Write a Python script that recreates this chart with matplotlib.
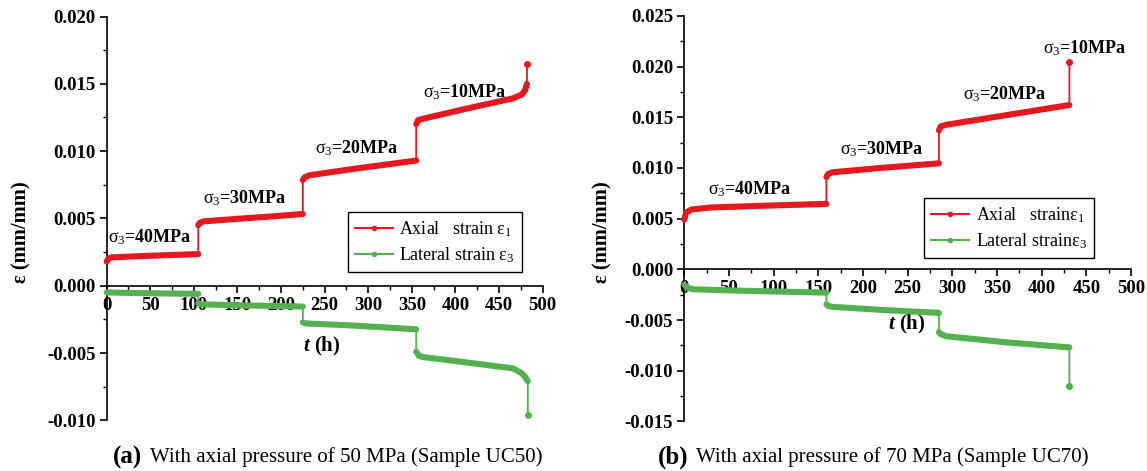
import matplotlib
matplotlib.use("Agg")
import matplotlib.pyplot as plt
from matplotlib.lines import Line2D
from matplotlib.ticker import MultipleLocator, FormatStrFormatter

plt.rcParams['font.family'] = ['Liberation Serif', 'DejaVu Serif']
plt.rcParams['mathtext.fontset'] = 'custom'
plt.rcParams['mathtext.rm'] = 'Liberation Serif'
plt.rcParams['mathtext.it'] = 'Liberation Serif:italic'
plt.rcParams['mathtext.bf'] = 'Liberation Serif:bold'
plt.rcParams['mathtext.bfit'] = 'Liberation Serif:italic:bold'
plt.rcParams['axes.unicode_minus'] = False

# ---- Sample UC50 (axial pressure 50 MPa): creep stages, time in h, strain in mm/mm
uc50_axial_t = [[0, 2, 5, 20, 60, 105],
                [105, 107, 111, 150, 190, 225],
                [225, 227, 232, 280, 320, 355],
                [355, 357, 365, 413, 466, 476, 480, 482]]
uc50_axial_e = [[0.0018, 0.0020, 0.0021, 0.00215, 0.00225, 0.00235],
                [0.0045, 0.00468, 0.00478, 0.00497, 0.00515, 0.00533],
                [0.00785, 0.00805, 0.0082, 0.00865, 0.0090, 0.0093],
                [0.0120, 0.0123, 0.01244, 0.01316, 0.01392, 0.0142, 0.01455, 0.0150]]
uc50_axial_fail = (482, 0.0165)

uc50_lat_t = [[0, 30, 70, 105],
              [105, 108, 150, 190, 225],
              [225, 228, 280, 320, 355],
              [355, 358, 363, 413, 466, 476, 480, 483]]
uc50_lat_e = [[-0.0005, -0.00054, -0.00058, -0.0006],
              [-0.0013, -0.00138, -0.00145, -0.0015, -0.00155],
              [-0.00272, -0.0028, -0.00295, -0.0031, -0.00324],
              [-0.0049, -0.0052, -0.0053, -0.0057, -0.00614, -0.0065, -0.0068, -0.0071]]
uc50_lat_fail = (483, -0.0096)

# ---- Sample UC70 (axial pressure 70 MPa)
uc70_axial_t = [[0, 2, 8, 30, 100, 159],
                [159, 161, 166, 220, 285],
                [285, 287, 293, 360, 431]]
uc70_axial_e = [[0.0049, 0.0056, 0.0059, 0.0061, 0.0063, 0.00645],
                [0.0091, 0.0094, 0.00957, 0.0100, 0.01045],
                [0.0137, 0.0141, 0.01425, 0.0152, 0.0162]]
uc70_axial_fail = (431, 0.0204)

uc70_lat_t = [[0, 3, 10, 60, 107, 159],
              [159, 161, 166, 220, 285],
              [285, 287, 293, 360, 431]]
uc70_lat_e = [[-0.0015, -0.0018, -0.00197, -0.0021, -0.0022, -0.0023],
              [-0.00345, -0.0036, -0.0037, -0.0040, -0.0043],
              [-0.0062, -0.0064, -0.0066, -0.0072, -0.0077]]
uc70_lat_fail = (431, -0.0115)

# confining pressure labels: (text, t, strain)
uc50_stage_labels = [("40MPa", 50, 0.0036), ("30MPa", 159, 0.0065),
                     ("20MPa", 287, 0.0102), ("10MPa", 411, 0.0144)]
uc70_stage_labels = [("40MPa", 73, 0.0079), ("30MPa", 221, 0.0119),
                     ("20MPa", 359, 0.0173), ("10MPa", 448, 0.0218)]

RED = '#e3191f'
GREEN = '#55b14f'


def draw_series(ax, ts, es, fail, color):
    full_t, full_e = [], []
    for t, e in zip(ts, es):
        full_t += t
        full_e += e
        ax.plot(t, e, color=color, lw=4.4, solid_capstyle='round',
                solid_joinstyle='round', zorder=4, clip_on=False)
    full_t.append(fail[0])
    full_e.append(fail[1])
    ax.plot(full_t, full_e, color=color, lw=1.3, zorder=4, clip_on=False)
    ax.plot([fail[0]], [fail[1]], 'o', color=color, ms=4, zorder=5, clip_on=False)


def setup_axes(ax, ylim, ymajor):
    ax.set_xlim(0, 500)
    ax.set_ylim(*ylim)
    for s in ('top', 'right'):
        ax.spines[s].set_visible(False)
    ax.spines['bottom'].set_position(('data', 0))
    ax.spines['bottom'].set_linewidth(1.2)
    ax.spines['left'].set_linewidth(1.2)
    ax.set_zorder(1)
    ax.xaxis.set_major_locator(MultipleLocator(50))
    ax.xaxis.set_minor_locator(MultipleLocator(25))
    ax.yaxis.set_major_locator(MultipleLocator(ymajor))
    ax.yaxis.set_minor_locator(MultipleLocator(ymajor / 2))
    ax.yaxis.set_major_formatter(FormatStrFormatter('%.3f'))
    ax.tick_params(which='major', direction='out', length=5, width=1.2,
                   labelsize=13.5, pad=3)
    ax.tick_params(which='minor', direction='out', length=3, width=1.0)
    for lbl in ax.get_xticklabels() + ax.get_yticklabels():
        lbl.set_fontweight('bold')
    ax.patch.set_visible(False)


def stage_text(ax, labels):
    for txt, t, e in labels:
        ax.text(t, e, r"$\mathrm{\sigma_3}$=" + txt, ha='center', va='center',
                fontsize=13, fontweight='bold', zorder=6)


def legend(ax, anchor, sep):
    handles = [Line2D([], [], color=RED, lw=1.5, marker='o', ms=3),
               Line2D([], [], color=GREEN, lw=1.5, marker='o', ms=3)]
    labels = [r"Axial   strain" + sep + r"$\mathrm{\varepsilon_1}$",
              r"Lateral strain" + sep + r"$\mathrm{\varepsilon_3}$"]
    leg = ax.legend(handles, labels, loc='upper left', bbox_to_anchor=anchor,
                    borderaxespad=0, fancybox=False, edgecolor='black',
                    fontsize=13, handlelength=2.1, handletextpad=0.35,
                    borderpad=0.4, labelspacing=0.35, numpoints=1,
                    framealpha=1)
    leg.get_frame().set_linewidth(1.0)
    leg.set_zorder(7)


fig = plt.figure(figsize=(11.47, 4.71), dpi=100)

# left panel: UC50
ax1 = fig.add_axes([0.0930, 0.1076, 0.3801, 0.8573])
setup_axes(ax1, (-0.010, 0.020), 0.005)
draw_series(ax1, uc50_axial_t, uc50_axial_e, uc50_axial_fail, RED)
draw_series(ax1, uc50_lat_t, uc50_lat_e, uc50_lat_fail, GREEN)
stage_text(ax1, uc50_stage_labels)
ax1.text(247, -0.0045, r"$\mathbfit{t}$ (h)", ha='center', va='center',
         fontsize=15, fontweight='bold')
legend(ax1, (0.553, 0.516), " ")

# right panel: UC70
ax2 = fig.add_axes([0.5966, 0.1053, 0.3895, 0.8611])
setup_axes(ax2, (-0.015, 0.025), 0.005)
draw_series(ax2, uc70_axial_t, uc70_axial_e, uc70_axial_fail, RED)
draw_series(ax2, uc70_lat_t, uc70_lat_e, uc70_lat_fail, GREEN)
stage_text(ax2, uc70_stage_labels)
ax2.text(249, -0.0054, r"$\mathbfit{t}$ (h)", ha='center', va='center',
         fontsize=15, fontweight='bold')
legend(ax2, (0.537, 0.551), "")

# y-axis titles
for x in (21.5 / 1147, 602 / 1147):
    fig.text(x, 1 - 232 / 471, "ε (mm/mm)", rotation=90, ha='center',
             va='center', fontsize=14.8, fontweight='bold')

# panel captions
cap_y = 1 - 457 / 471
fig.text(113 / 1147, cap_y, "(a)", fontsize=18, fontweight='bold',
         ha='left', va='center')
fig.text(150 / 1147, cap_y, "With axial pressure of 50 MPa (Sample UC50)",
         fontsize=15, ha='left', va='center')
fig.text(658 / 1147, cap_y, "(b)", fontsize=18, fontweight='bold',
         ha='left', va='center')
fig.text(696 / 1147, cap_y, "With axial pressure of 70 MPa (Sample UC70)",
         fontsize=15, ha='left', va='center')

fig.savefig("out.png", dpi=100)
